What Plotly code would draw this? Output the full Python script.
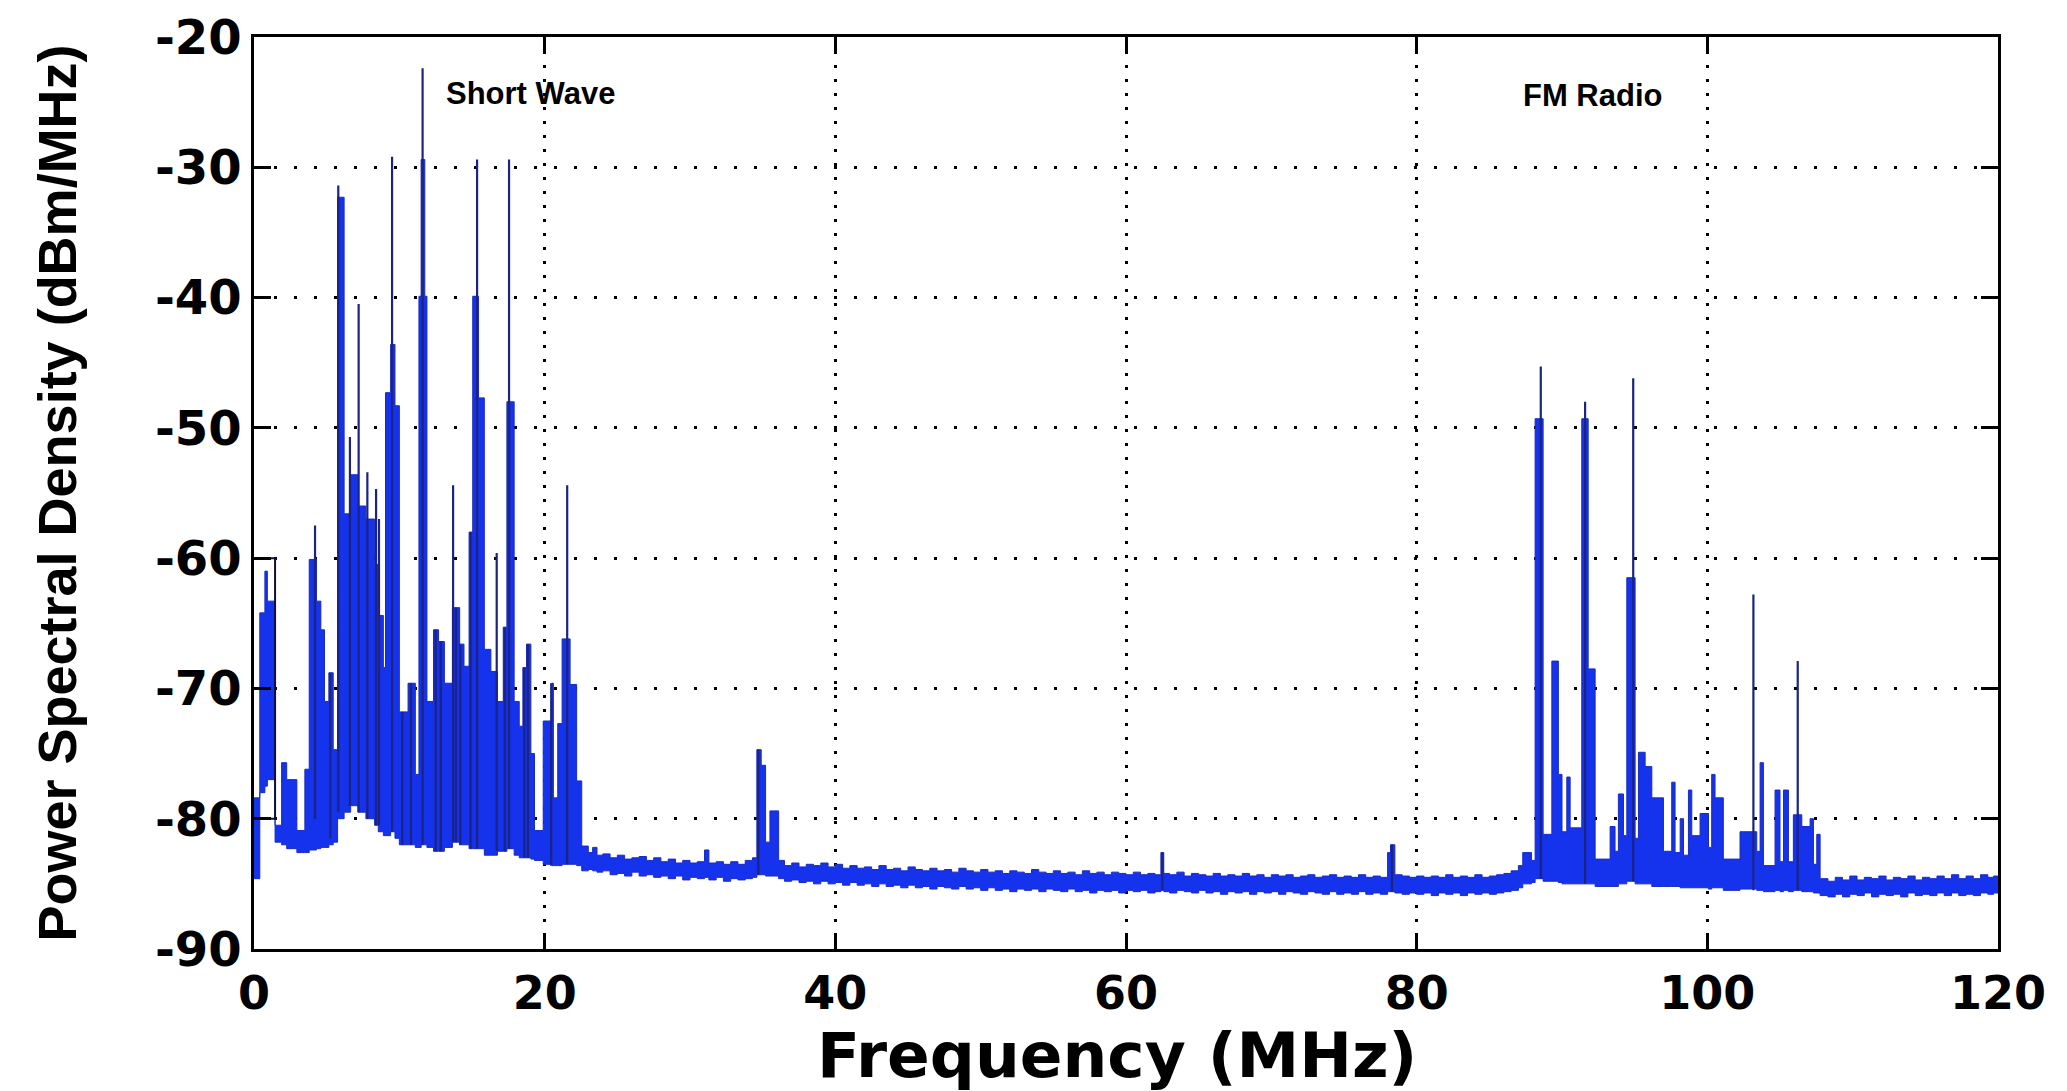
import plotly.graph_objects as go

# ---------------- data ----------------
# spectrum body: frequency (MHz) where each step starts, upper and lower edge (dBm/MHz)
body_f = [
    0.0, 0.4, 0.75, 0.92, 1.45, 1.9, 2.25, 2.95, 3.5, 3.8, 4.3, 4.6, 4.85, 5.15, 5.45,
    5.75, 6.2, 6.65, 7.15, 7.7, 8.3, 8.55, 8.9, 9.05, 9.4, 9.7, 10.0, 10.6, 11.1, 11.35,
    11.5, 11.75, 11.9, 12.35, 12.7, 13.1, 13.65, 14.15, 14.45, 14.8, 15.05, 15.45, 15.85,
    16.3, 16.75, 17.15, 17.4, 17.9, 18.25, 18.5, 18.75, 19.05, 19.3, 19.9, 20.5, 20.6,
    20.9, 21.2, 21.75, 22.2, 22.55,
    23.0, 23.3, 23.6, 24.0, 24.5, 25.0, 25.5, 26.0, 26.5, 27.0, 27.5, 28.0, 28.5, 29.0,
    29.5, 30.0, 30.5, 31.0, 31.3, 31.8, 32.3, 32.8, 33.3, 33.8, 34.3, 34.6, 34.9, 35.2,
    35.5, 36.1, 36.5, 37.0, 37.5, 38.0, 38.5, 39.0, 39.5, 40.0, 40.5, 41.0, 41.5, 42.0,
    42.5, 43.0, 43.5, 44.0, 44.5, 45.0, 45.5, 46.0, 46.5, 47.0, 47.5, 48.0, 48.5, 49.0,
    49.5, 50.0, 50.5, 51.0, 51.5, 52.0, 52.5, 53.0, 53.5, 54.0, 54.5, 55.0, 55.5, 56.0,
    56.5, 57.0, 57.5, 58.0, 58.5, 59.0, 59.5, 60.0, 60.5, 61.0, 61.5, 62.0, 62.4, 62.6,
    63.0, 63.5, 64.0, 64.5, 65.0, 65.5, 66.0, 66.5, 67.0, 67.5, 68.0, 68.5, 69.0, 69.5,
    70.0, 70.5, 71.0, 71.5, 72.0, 72.5, 73.0, 73.5, 74.0, 74.5, 75.0, 75.5, 76.0, 76.5,
    77.0, 77.5, 78.0, 78.2, 78.5, 79.0, 79.5, 80.0, 80.5, 81.0, 81.5, 82.0, 82.5, 83.0,
    83.5, 84.0, 84.5, 85.0, 85.5, 86.0, 86.5,
    87.0, 87.3, 87.9, 88.15, 88.7, 89.3, 89.75, 90.0, 90.33, 90.56, 91.36, 91.8, 92.28,
    93.31, 93.65, 93.88, 94.23, 94.46, 95.03, 95.26, 95.72, 96.18, 96.98, 97.55, 97.78,
    98.13, 98.36, 98.7, 98.93, 99.5, 100.08, 100.3, 100.53, 101.1, 102.25, 103.4, 103.63,
    103.86, 104.66, 105.0, 105.24, 105.58, 105.92, 106.5, 107.07, 107.3, 107.53, 107.76,
    108.3, 108.8, 109.3, 109.8, 110.3, 110.8, 111.3, 111.8, 112.3, 112.8, 113.3, 113.8,
    114.3, 114.8, 115.3, 115.8, 116.3, 116.8, 117.3, 117.8, 118.3, 118.8, 119.3, 119.7,
    120.0,
]
body_hi = [
    -78.4, -64.2, -61.0, -63.3, -80.5, -75.7, -77.0, -80.9, -76.2, -60.1, -63.3, -65.5, -71.0, -68.8, -74.7,
    -32.3, -56.6, -53.6, -56.0, -57.0, -60.5, -64.4, -68.4, -47.3, -43.6, -48.3, -71.8, -69.6, -76.6, -39.9,
    -29.4, -39.9, -71.0, -65.5, -66.4, -69.6, -63.8, -66.6, -68.3, -58.0, -39.9, -47.7, -67.0,
    -68.7, -71.0, -65.3, -48.0, -71.0, -72.9, -68.4, -66.6, -75.0, -80.9, -72.5, -69.6, -78.4,
    -72.7, -66.2, -69.7, -77.1, -82.1,
    -82.6, -82.2, -82.8, -82.7, -83.0, -82.8, -83.1, -83.0, -82.9, -83.2, -83.0, -83.3, -83.1, -83.4,
    -83.2, -83.4, -83.3, -82.4, -83.4, -83.3, -83.5, -83.3, -83.5, -83.2, -83.0, -74.7, -75.9, -81.8,
    -79.4, -83.2, -83.6, -83.4, -83.7, -83.5, -83.6, -83.4, -83.7, -83.5, -83.8, -83.6, -83.8, -83.7,
    -83.9, -83.6, -83.9, -83.8, -84.0, -83.7, -83.9, -84.0, -83.8, -84.0, -83.9, -84.1, -83.8, -84.0,
    -84.1, -83.9, -84.1, -84.0, -84.2, -84.0, -84.1, -84.2, -83.9, -84.1, -84.2, -84.0, -84.2, -84.1,
    -84.3, -84.0, -84.2, -84.1, -84.3, -84.1, -84.2, -84.3, -84.1, -84.3, -84.2, -84.3, -82.6, -84.2,
    -84.3, -84.1, -84.4, -84.2, -84.3, -84.4, -84.2, -84.4, -84.3, -84.4, -84.2, -84.4, -84.3, -84.5,
    -84.3, -84.4, -84.3, -84.5, -84.4, -84.3, -84.5, -84.4, -84.3, -84.5, -84.4, -84.5, -84.3, -84.5,
    -84.4, -84.5, -82.6, -82.0, -84.3, -84.4, -84.5, -84.4, -84.5, -84.4, -84.5, -84.3, -84.5, -84.4,
    -84.5, -84.3, -84.5, -84.4, -84.3, -84.2, -84.0,
    -83.6, -82.6, -83.2, -49.3, -81.2, -67.9, -76.6, -81.0, -76.8, -80.7, -49.3, -68.5, -83.1,
    -80.6, -82.5, -78.1, -81.3, -61.5, -81.5, -74.9, -76.0, -78.4, -82.5, -77.2, -82.6,
    -80.0, -82.8, -77.8, -81.3, -79.6, -82.2, -76.6, -78.4, -83.1, -81.0, -82.5, -75.7,
    -83.6, -77.8, -83.3, -77.8, -83.3, -79.7, -80.6, -80.0, -83.5, -81.2, -84.6,
    -84.8, -84.5, -84.7, -84.4, -84.7, -84.5, -84.6, -84.4, -84.7, -84.5, -84.6, -84.4,
    -84.7, -84.5, -84.6, -84.4, -84.6, -84.3, -84.6, -84.4, -84.6, -84.3, -84.5, -84.4,
    -84.4,
]
body_lo = [
    -84.6, -78.0, -77.5, -77.0, -81.8, -82.0, -82.3, -82.6, -82.6, -82.4, -82.3, -82.2, -82.2, -82.0, -81.8,
    -80.0, -79.5, -79.0, -79.5, -80.0, -80.5, -81.0, -81.3, -81.3, -81.0, -81.5, -82.0, -82.0, -82.2, -82.2,
    -82.0, -82.0, -82.2, -82.5, -82.5, -82.2, -81.8, -82.0, -82.0, -82.3, -82.3, -82.3, -82.8,
    -82.8, -82.5, -82.5, -82.3, -82.8, -83.0, -83.0, -83.0, -83.1, -83.2, -83.5, -83.6, -83.6,
    -83.6, -83.5, -83.5, -83.6, -84.0,
    -83.9, -84.0, -84.1, -84.0, -84.3, -84.2, -84.4, -84.1, -84.4, -84.3, -84.5, -84.4, -84.6, -84.4,
    -84.7, -84.5, -84.6, -84.5, -84.7, -84.5, -84.8, -84.6, -84.7, -84.6, -84.5, -84.3, -84.3, -84.4,
    -84.4, -84.6, -84.8, -84.7, -84.9, -84.8, -85.0, -84.8, -85.0, -84.9, -85.1, -84.9, -85.1, -85.0,
    -85.2, -85.0, -85.2, -85.1, -85.3, -85.1, -85.3, -85.2, -85.4, -85.2, -85.3, -85.4, -85.2, -85.4,
    -85.3, -85.5, -85.3, -85.5, -85.4, -85.6, -85.4, -85.5, -85.4, -85.6, -85.4, -85.5, -85.6, -85.4,
    -85.6, -85.5, -85.7, -85.5, -85.6, -85.5, -85.7, -85.5, -85.6, -85.5, -85.7, -85.6, -85.5, -85.6,
    -85.7, -85.5, -85.6, -85.7, -85.5, -85.7, -85.6, -85.8, -85.6, -85.7, -85.6, -85.8, -85.6, -85.7,
    -85.6, -85.8, -85.6, -85.7, -85.8, -85.6, -85.7, -85.8, -85.6, -85.8, -85.7, -85.8, -85.6, -85.8,
    -85.7, -85.8, -85.6, -85.6, -85.7, -85.8, -85.7, -85.8, -85.7, -85.9, -85.7, -85.8, -85.7, -85.9,
    -85.7, -85.8, -85.7, -85.8, -85.7, -85.6, -85.5,
    -85.3, -85.0, -84.9, -84.6, -84.8, -84.8, -84.9, -85.0, -85.0, -85.0, -85.0, -85.0, -85.2,
    -85.2, -85.2, -85.0, -85.0, -84.8, -85.0, -85.0, -85.0, -85.2, -85.2, -85.2, -85.2,
    -85.3, -85.3, -85.3, -85.3, -85.3, -85.4, -85.3, -85.3, -85.5, -85.4, -85.5, -85.5,
    -85.6, -85.5, -85.6, -85.5, -85.6, -85.5, -85.6, -85.6, -85.7, -85.7, -85.9,
    -86.0, -85.8, -86.0, -85.8, -85.9, -85.7, -86.0, -85.8, -85.9, -85.8, -86.0, -85.7,
    -85.9, -85.8, -85.9, -85.7, -85.9, -85.7, -85.9, -85.8, -85.9, -85.7, -85.8, -85.7,
    -85.7,
]

# narrow carrier spikes: frequency (MHz), peak (dBm/MHz), foot (dBm/MHz)
spike_f = [4.2, 5.25, 5.8, 6.6, 7.2, 7.8, 8.4, 8.6, 9.5, 10.2, 10.8, 11.6, 12.5, 12.85,
           13.7, 13.9, 14.2, 14.9, 15.35, 16.7, 17.25, 17.55, 18.6, 18.85, 20.45, 21.55,
           34.7, 62.5, 78.3, 88.54, 91.59, 94.9, 103.17, 106.22]
spike_top = [-57.5, -68.8, -31.4, -50.7, -40.5, -53.4, -54.7, -57.0, -29.2, -71.8, -69.6, -22.4, -65.5, -66.4,
             -54.4, -63.8, -66.6, -58.0, -29.4, -59.6, -65.3, -29.4, -68.4, -66.6, -69.6, -54.4,
             -74.7, -82.6, -82.0, -45.3, -48.0, -46.2, -62.8, -67.9]
spike_foot = [-80.0, -81.5, -79.5, -79.0, -79.5, -80.0, -80.5, -80.5, -81.0, -82.0, -82.0, -82.0, -82.5, -82.5,
              -81.8, -81.8, -82.0, -82.3, -82.3, -82.5, -82.5, -82.3, -83.0, -83.0, -83.6, -83.5,
              -84.3, -85.5, -85.6, -84.6, -85.0, -84.8, -85.5, -85.5]

# dark rectangle drawn near DC
box_f = [0.0, 1.45, 1.45, 0.0]
box_db = [-60.0, -60.0, -80.0, -80.0]

labels = ["Short Wave", "FM Radio"]
label_f = [13.1, 87.2]
label_db = [-24.3, -24.5]

x_title = "Frequency (MHz)"
y_title = "Power Spectral Density (dBm/MHz)"
x_ticks = [0, 20, 40, 60, 80, 100, 120]
y_ticks = [-90, -80, -70, -60, -50, -40, -30, -20]

FILL = "#1532ec"
EDGE = "#1a2cc0"
NAVY = "#1c2380"

# ---------------- figure ----------------
fig = go.Figure()
fig.add_trace(go.Scatter(x=body_f, y=body_lo, mode="lines", line=dict(color=EDGE, width=1.0, shape="hv"),
                         hoverinfo="skip", showlegend=False))
fig.add_trace(go.Scatter(x=body_f, y=body_hi, mode="lines", fill="tonexty", fillcolor=FILL,
                         line=dict(color=EDGE, width=1.0, shape="hv"), showlegend=False))

sx, sy = [], []
for f, top, foot in zip(spike_f, spike_top, spike_foot):
    sx += [f, f, None]
    sy += [foot, top, None]
fig.add_trace(go.Scatter(x=sx, y=sy, mode="lines", line=dict(color=NAVY, width=2.2),
                         showlegend=False, hoverinfo="skip"))

fig.add_trace(go.Scatter(x=box_f, y=box_db, mode="lines", line=dict(color="#111133", width=2),
                         showlegend=False, hoverinfo="skip"))

for t, f, d in zip(labels, label_f, label_db):
    fig.add_annotation(x=f, y=d, text=t, showarrow=False, xanchor="left", yanchor="middle",
                       font=dict(family="Liberation Sans", size=31, color="black", weight="bold"))

# x-axis title placed below the tick labels (as in the reference, near the image bottom)
fig.add_annotation(x=0.495, y=-0.1165, xref="paper", yref="paper", text=x_title, showarrow=False,
                   xanchor="center", yanchor="middle",
                   font=dict(family="DejaVu Sans", size=63, color="black", weight="bold"))

fig.update_layout(
    width=2067, height=1091,
    margin=dict(l=254, r=69, t=37, b=142, autoexpand=False),
    paper_bgcolor="white", plot_bgcolor="white",
)
fig.update_xaxes(
    range=[0, 120], tickvals=x_ticks, ticktext=[str(v) for v in x_ticks],
    ticks="inside", ticklen=14, tickwidth=2.5, tickcolor="black",
    showline=True, linewidth=2.5, linecolor="black", mirror="ticks",
    showgrid=True, gridcolor="black", gridwidth=2.5, griddash="3px,11px",
    zeroline=False, ticklabelstandoff=2, automargin=False,
    tickfont=dict(family="DejaVu Sans", size=46, color="black", weight="bold"),
)
fig.update_yaxes(
    range=[-90, -20], tickvals=y_ticks, ticktext=[str(v) for v in y_ticks],
    ticks="inside", ticklen=17, tickwidth=2.5, tickcolor="black",
    showline=True, linewidth=2.5, linecolor="black", mirror="ticks",
    showgrid=True, gridcolor="black", gridwidth=2.5, griddash="3px,17px",
    zeroline=False, automargin=False,
    tickfont=dict(family="DejaVu Sans", size=48, color="black", weight="bold"),
    title=dict(text=y_title, standoff=62,
               font=dict(family="Liberation Sans", size=54, color="black", weight="bold")),
)

fig.write_html("out.html")
